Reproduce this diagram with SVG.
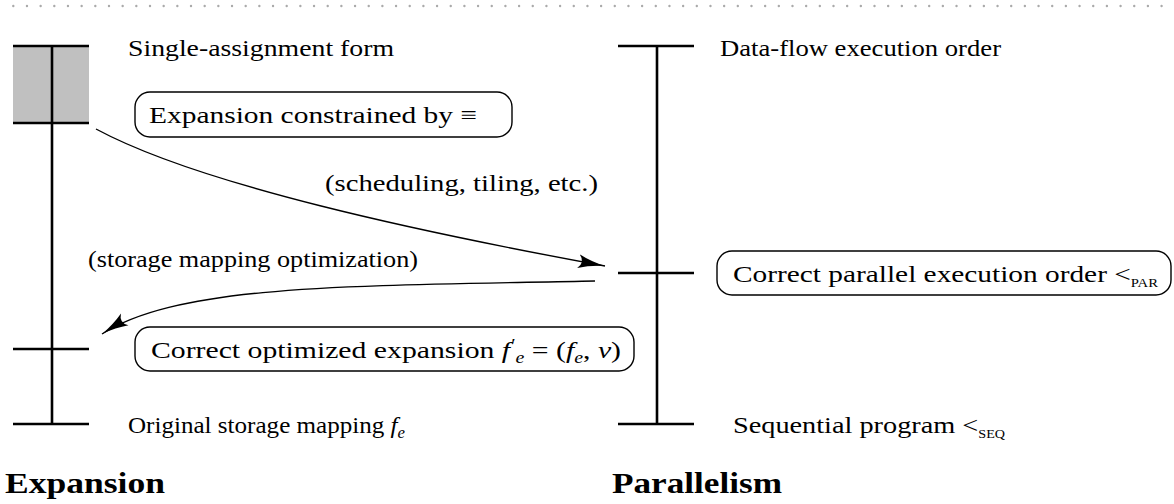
<svg xmlns="http://www.w3.org/2000/svg" width="1174" height="504" viewBox="0 0 1174 504">
<style>
.t{font-family:"Liberation Serif","DejaVu Serif",serif;font-size:24px;fill:#000}
.h{font-family:"Liberation Serif","DejaVu Serif",serif;font-size:30px;font-weight:bold;fill:#000}
.it{font-style:italic}
.sub{font-size:16px}
.sc{font-size:12px}
.ax{stroke:#000;stroke-width:2.6;fill:none}
.box{fill:#fff;stroke:#000;stroke-width:1.4}
.conn{fill:none;stroke:#000;stroke-width:1.4}
</style>
<defs>
<marker id="ah" markerWidth="30" markerHeight="16" refX="27" refY="8" orient="auto" markerUnits="userSpaceOnUse">
<path d="M0,1 Q12,6 27,8 Q12,10 0,15 Q7,8 0,1 Z" fill="#000"/>
</marker>
</defs>
<line x1="13.3" y1="6" x2="1174" y2="6" stroke="#aaa" stroke-width="2.4" stroke-linecap="round" stroke-dasharray="0 13.67"/>
<g id="expansion-axis">
<rect x="13" y="46" width="76" height="77" fill="#c0c0c0"/>
<line class="ax" x1="52" y1="46" x2="52" y2="424"/>
<line class="ax" x1="13" y1="46" x2="89" y2="46"/>
<line class="ax" x1="13" y1="123" x2="89" y2="123"/>
<line class="ax" x1="13" y1="349" x2="89" y2="349"/>
<line class="ax" x1="13" y1="424" x2="89" y2="424"/>
<text class="h" x="5" y="493" textLength="160" lengthAdjust="spacingAndGlyphs">Expansion</text>
</g>
<g id="parallelism-axis">
<line class="ax" x1="657" y1="46" x2="657" y2="424"/>
<line class="ax" x1="618" y1="46" x2="694" y2="46"/>
<line class="ax" x1="618" y1="273" x2="694" y2="273"/>
<line class="ax" x1="618" y1="424" x2="694" y2="424"/>
<text class="h" x="612" y="493" textLength="170" lengthAdjust="spacingAndGlyphs">Parallelism</text>
</g>
<g id="n-single">
<text class="t" x="128" y="56" textLength="266" lengthAdjust="spacingAndGlyphs">Single-assignment form</text>
</g>
<g id="n-dataflow">
<text class="t" x="720" y="56" textLength="281" lengthAdjust="spacingAndGlyphs">Data-flow execution order</text>
</g>
<g id="n-constrained">
<rect class="box" x="135" y="92" width="377" height="45" rx="15"/>
<text class="t" x="149" y="123" textLength="328" lengthAdjust="spacingAndGlyphs">Expansion constrained by ≡</text>
</g>
<g id="n-parallel">
<rect class="box" x="717" y="251" width="454" height="44" rx="15"/>
<text class="t" x="733" y="282" textLength="425" lengthAdjust="spacingAndGlyphs">Correct parallel execution order &lt;<tspan class="sc" dy="5">PAR</tspan></text>
</g>
<g id="n-optimized">
<rect class="box" x="135" y="327" width="499" height="44" rx="15"/>
<text class="t" x="151" y="358" textLength="470" lengthAdjust="spacingAndGlyphs">Correct optimized expansion <tspan class="it">f</tspan><tspan class="sub" dx="1" dy="-8">′</tspan><tspan class="sub it" dy="13">e</tspan><tspan dy="-5"> = (</tspan><tspan class="it">f</tspan><tspan class="sub it" dy="5">e</tspan><tspan dy="-5">, </tspan><tspan class="it">ν</tspan>)</text>
</g>
<g id="n-original">
<text class="t" x="128" y="433" textLength="277" lengthAdjust="spacingAndGlyphs">Original storage mapping <tspan class="it">f</tspan><tspan class="sub it" dy="5">e</tspan></text>
</g>
<g id="n-sequential">
<text class="t" x="733" y="433" textLength="272" lengthAdjust="spacingAndGlyphs">Sequential program &lt;<tspan class="sc" dy="5">SEQ</tspan></text>
</g>
<g id="connectors">
<path class="conn" d="M96,129 C200,185 420,232 605,266" marker-end="url(#ah)"/>
<path class="conn" d="M595,281 C350,286 180,284 102,334" marker-end="url(#ah)"/>
<text class="t" x="325" y="191" textLength="273" lengthAdjust="spacingAndGlyphs">(scheduling, tiling, etc.)</text>
<text class="t" x="88" y="267" textLength="330" lengthAdjust="spacingAndGlyphs">(storage mapping optimization)</text>
</g>
</svg>
